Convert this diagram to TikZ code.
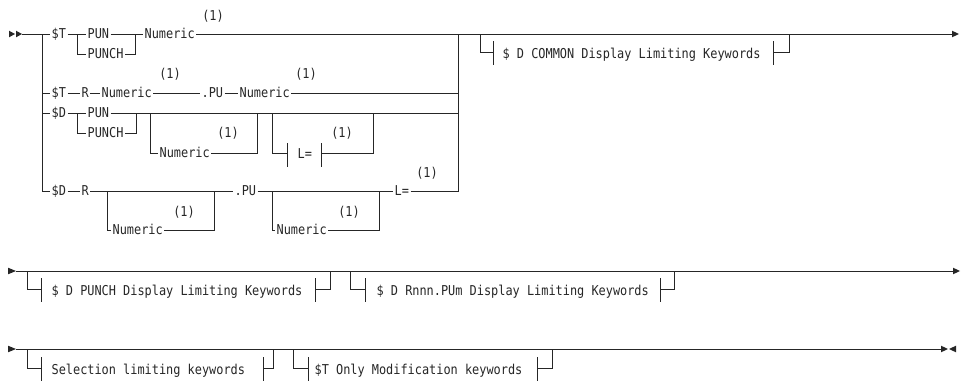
\documentclass[tikz,border=0pt]{standalone}
\usepackage{fontspec}
\newfontfamily\railfont[FakeStretch=0.875]{DejaVu Sans Mono}
\usetikzlibrary{calc}
\begin{document}
\begin{tikzpicture}[x=0.75pt,y=-0.75pt,
  rail/.style={line width=0.65pt, draw=black!85},
  kw/.style={font=\railfont\fontsize{10.2}{11}\selectfont, text=black!85, anchor=west,
    inner xsep=1.2pt, inner ysep=0pt, text height=7.4pt, text depth=0pt, outer sep=0pt},
  note/.style={kw, anchor=center},
  tip/.style={fill=black!85},
]
\useasboundingbox (0,0) rectangle (965,382);

% ---------------- Row 1 ----------------
\fill[tip] (9,30.7) -- (15,34) -- (9,37.3) -- cycle;
\fill[tip] (16,30.7) -- (22,34) -- (16,37.3) -- cycle;
\coordinate (s1) at (22,34);
\coordinate (b1) at (42,34);
\node[kw] (t1) at (50,34) {\$T};
\coordinate (f1) at (77,34); \coordinate (f1d) at (77,54);
\node[kw] (pun1) at (86,34) {PUN};
\node[kw] (punch1) at (86,54) {PUNCH};
\coordinate (j1) at (135,34); \coordinate (j1d) at (135,54);
\node[kw] (num1) at (143,34) {Numeric};
\node[note] (n1) at (213,16) {(1)};
\coordinate (m1) at (458,34);
\coordinate (c1) at (480,34); \coordinate (c1d) at (480,52);
\coordinate (cbl) at (493,52); \coordinate (cbr) at (773,52);
\coordinate (c1e) at (789,52); \coordinate (c1u) at (789,34);
\node[kw] (common) at (501,53.5) {\$ D COMMON Display Limiting Keywords};
\coordinate (e1) at (952,34);
\fill[tip] (952,30.7) -- (959,34) -- (952,37.3) -- cycle;

\draw[rail] (s1) -- (t1.west);
\draw[rail] (t1.east) -- (pun1.west);
\draw[rail] (f1) -- (f1d) -- (punch1.west);
\draw[rail] (pun1.east) -- (j1);
\draw[rail] (punch1.east) -- (j1d) -- (j1) -- (num1.west);
\draw[rail] (num1.east) -- (e1);
\draw[rail] (c1) -- (c1d) -- (cbl);
\draw[rail] (cbr) -- (c1e) -- (c1u);
\draw[rail] ($(cbl)+(0,-11)$) -- ($(cbl)+(0,13)$);
\draw[rail] ($(cbr)+(0,-11)$) -- ($(cbr)+(0,13)$);

% ---------------- Row 2 ($T R) ----------------
\coordinate (b2) at (42,93);
\node[kw] (t2) at (50,93) {\$T};
\node[kw] (r2) at (80,93) {R};
\node[kw] (num2a) at (100,93) {Numeric};
\node[note] (n2a) at (170,73.5) {(1)};
\node[kw] (pu2) at (200,93) {.PU};
\node[kw] (num2b) at (238,93) {Numeric};
\node[note] (n2b) at (306,73.5) {(1)};
\coordinate (m2) at (458,93);
\draw[rail] (b2) -- (t2.west);
\draw[rail] (t2.east) -- (r2.west);
\draw[rail] (r2.east) -- (num2a.west);
\draw[rail] (num2a.east) -- (pu2.west);
\draw[rail] (pu2.east) -- (num2b.west);
\draw[rail] (num2b.east) -- (m2);

% ---------------- Row 3 ($D PUN) ----------------
\coordinate (b3) at (42,113);
\node[kw] (d3) at (50,113) {\$D};
\coordinate (f3) at (77,113); \coordinate (f3d) at (77,133);
\node[kw] (pun3) at (86,113) {PUN};
\node[kw] (punch3) at (86,133) {PUNCH};
\coordinate (j3) at (136,113); \coordinate (j3d) at (136,133);
\coordinate (m3) at (458,113);
\coordinate (o3a) at (150,113); \coordinate (o3ad) at (150,153);
\node[kw] (num3) at (158,153) {Numeric};
\coordinate (o3b) at (257,153); \coordinate (o3bu) at (257,113);
\node[note] (n3a) at (228,133) {(1)};
\coordinate (o3c) at (272,113); \coordinate (o3cd) at (272,153);
\coordinate (lbl) at (287,153); \coordinate (lbr) at (321,153);
\node[kw] (leq3) at (296,154) {L=};
\coordinate (o3d) at (373,153); \coordinate (o3du) at (373,113);
\node[note] (n3b) at (342,133) {(1)};
\draw[rail] (b3) -- (d3.west);
\draw[rail] (d3.east) -- (pun3.west);
\draw[rail] (f3) -- (f3d) -- (punch3.west);
\draw[rail] (pun3.east) -- (j3);
\draw[rail] (punch3.east) -- (j3d) -- (j3) -- (m3);
\draw[rail] (o3a) -- (o3ad) -- (num3.west);
\draw[rail] (num3.east) -- (o3b) -- (o3bu);
\draw[rail] (o3c) -- (o3cd) -- (lbl);
\draw[rail] (lbr) -- (o3d) -- (o3du);
\draw[rail] ($(lbl)+(0,-10)$) -- ($(lbl)+(0,14)$);
\draw[rail] ($(lbr)+(0,-10)$) -- ($(lbr)+(0,14)$);

% ---------------- Row 4 ($D R) ----------------
\node[kw] (d4) at (50,191) {\$D};
\node[kw] (r4) at (80,191) {R};
\coordinate (o4a) at (107,191); \coordinate (o4ad) at (107,230);
\node[kw] (num4a) at (111,230) {Numeric};
\coordinate (o4b) at (214,230); \coordinate (o4bu) at (214,191);
\node[note] (n4a) at (184,212) {(1)};
\node[kw] (pu4) at (233,191) {.PU};
\coordinate (o4c) at (272,191); \coordinate (o4cd) at (272,230);
\node[kw] (num4b) at (275,230) {Numeric};
\coordinate (o4d) at (379,230); \coordinate (o4du) at (379,191);
\node[note] (n4b) at (349,212) {(1)};
\node[kw] (leq4) at (393,191) {L=};
\node[note] (n4c) at (427,173) {(1)};
\coordinate (m4) at (458,191);
\draw[rail] (b1) |- (d4.west);
\draw[rail] (d4.east) -- (r4.west);
\draw[rail] (r4.east) -- (pu4.west);
\draw[rail] (o4a) -- (o4ad) -- (num4a.west);
\draw[rail] (num4a.east) -- (o4b) -- (o4bu);
\draw[rail] (pu4.east) -- (leq4.west);
\draw[rail] (o4c) -- (o4cd) -- (num4b.west);
\draw[rail] (num4b.east) -- (o4d) -- (o4du);
\draw[rail] (leq4.east) -- (m4) -- (m1);

% ---------------- Second line ----------------
\fill[tip] (8,267.7) -- (16,271) -- (8,274.3) -- cycle;
\coordinate (s5) at (16,271); \coordinate (e5) at (953,271);
\fill[tip] (953,267.7) -- (960,271) -- (953,274.3) -- cycle;
\draw[rail] (s5) -- (e5);
% PUNCH fragment
\coordinate (f5a) at (27,271); \coordinate (f5ad) at (27,289);
\coordinate (p5l) at (41,289); \coordinate (p5r) at (315,289);
\coordinate (f5b) at (330,289); \coordinate (f5bu) at (330,271);
\node[kw] (punchfr) at (50,290.5) {\$ D PUNCH Display Limiting Keywords};
\draw[rail] (f5a) -- (f5ad) -- (p5l);
\draw[rail] (p5r) -- (f5b) -- (f5bu);
\draw[rail] ($(p5l)+(0,-11)$) -- ($(p5l)+(0,13)$);
\draw[rail] ($(p5r)+(0,-11)$) -- ($(p5r)+(0,13)$);
% Rnnn fragment
\coordinate (f5c) at (350,271); \coordinate (f5cd) at (350,289);
\coordinate (q5l) at (365,289); \coordinate (q5r) at (660,289);
\coordinate (f5d) at (674,289); \coordinate (f5du) at (674,271);
\node[kw] (rnnnfr) at (375,290.5) {\$ D Rnnn.PUm Display Limiting Keywords};
\draw[rail] (f5c) -- (f5cd) -- (q5l);
\draw[rail] (q5r) -- (f5d) -- (f5du);
\draw[rail] ($(q5l)+(0,-11)$) -- ($(q5l)+(0,13)$);
\draw[rail] ($(q5r)+(0,-11)$) -- ($(q5r)+(0,13)$);

% ---------------- Third line ----------------
\fill[tip] (8,345.7) -- (16,349) -- (8,352.3) -- cycle;
\coordinate (s6) at (16,349); \coordinate (e6) at (941,349);
\fill[tip] (941,345.7) -- (948,349) -- (941,352.3) -- cycle;
\fill[tip] (956,345.7) -- (949,349) -- (956,352.3) -- cycle;
\draw[rail] (s6) -- (e6);
% Selection fragment
\coordinate (f6a) at (27,349); \coordinate (f6ad) at (27,368);
\coordinate (u6l) at (41,368); \coordinate (u6r) at (263,368);
\coordinate (f6b) at (273,368); \coordinate (f6bu) at (273,349);
\node[kw] (selfr) at (50,369.5) {Selection limiting keywords};
\draw[rail] (f6a) -- (f6ad) -- (u6l);
\draw[rail] (u6r) -- (f6b) -- (f6bu);
\draw[rail] ($(u6l)+(0,-11)$) -- ($(u6l)+(0,13)$);
\draw[rail] ($(u6r)+(0,-11)$) -- ($(u6r)+(0,13)$);
% $T Only fragment
\coordinate (f6c) at (293,349); \coordinate (f6cd) at (293,368);
\coordinate (v6l) at (308,368); \coordinate (v6r) at (537,368);
\coordinate (f6d) at (552,368); \coordinate (f6du) at (552,349);
\node[kw] (onlyfr) at (313,369.5) {\$T Only Modification keywords};
\draw[rail] (f6c) -- (f6cd) -- (v6l);
\draw[rail] (v6r) -- (f6d) -- (f6du);
\draw[rail] ($(v6l)+(0,-11)$) -- ($(v6l)+(0,13)$);
\draw[rail] ($(v6r)+(0,-11)$) -- ($(v6r)+(0,13)$);
\end{tikzpicture}
\end{document}
